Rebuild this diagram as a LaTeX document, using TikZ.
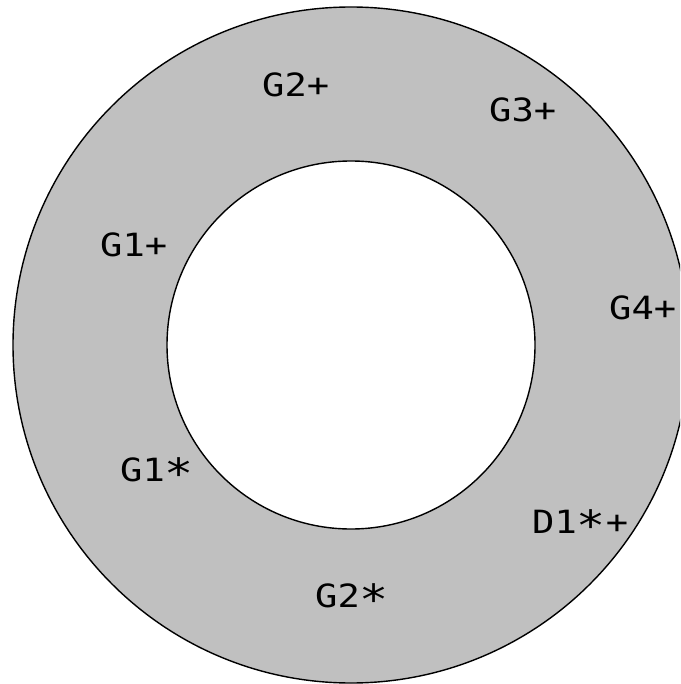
\documentclass[tikz,border=0pt]{standalone}
\usepackage{fontspec}
\setmonofont{DejaVu Sans Mono}
\definecolor{ringgray}{HTML}{C0C0C0}
\tikzset{
  lbl/.style={anchor=base west, inner sep=0pt, font=\ttfamily\fontsize{32}{32}\selectfont},
  ring/.style={draw=black, line width=1.4pt}
}
\newcommand{\lowstar}{\raisebox{-0.42ex}{\scalebox{1.3}{*}}}
\newcommand{\wide}[1]{\scalebox{1.16}[1]{#1}}
\begin{document}
\begin{tikzpicture}[x=1pt,y=-1pt]
\useasboundingbox (0,0) rectangle (680,684);
\begin{scope}
\clip (0,0) rectangle (680,684);
\fill[ringgray, even odd rule] (351,345) circle (338) (351,345) circle (184);
\draw[ring] (351,345) circle (338);
\draw[ring] (351,345) circle (184);
\end{scope}
\node[lbl] (g2p) at (262,97) {\wide{G2+}};
\node[lbl] (g3p) at (489,122) {\wide{G3+}};
\node[lbl] (g1p) at (100,257) {\wide{G1+}};
\node[lbl] (g4p) at (609,319) {\wide{G4+}};
\node[lbl] (g1s) at (120,481) {\wide{G1\lowstar}};
\node[lbl] (d1) at (532,533) {\wide{D1\lowstar+}};
\node[lbl] (g2s) at (315,607) {\wide{G2\lowstar}};
\end{tikzpicture}
\end{document}
